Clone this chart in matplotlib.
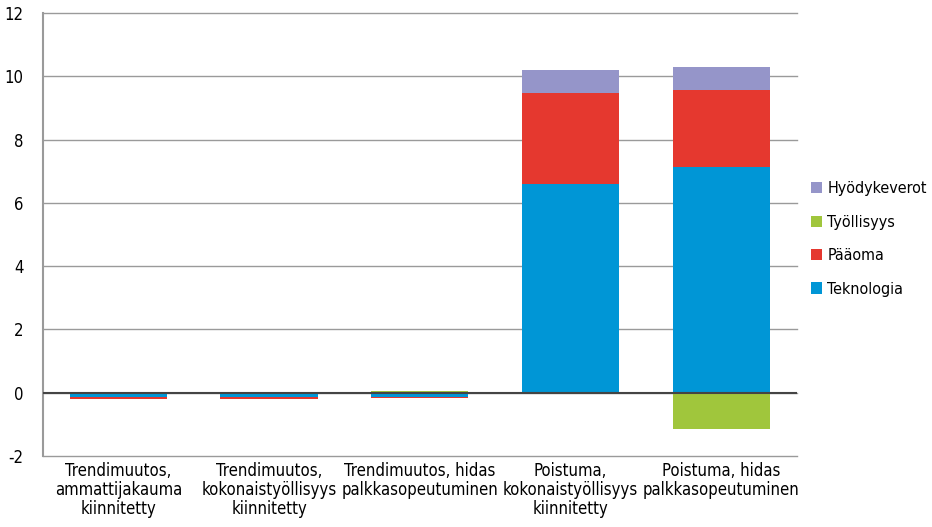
import matplotlib.pyplot as plt
import numpy as np

plt.rcParams['font.family'] = ['DejaVu Sans']
plt.rcParams['font.stretch'] = 'condensed'
plt.rcParams['axes.unicode_minus'] = False

categories = [
    "Trendimuutos,\nammattijakauma\nkiinnitetty",
    "Trendimuutos,\nkokonaistyöllisyys\nkiinnitetty",
    "Trendimuutos, hidas\npalkkasopeutuminen",
    "Poistuma,\nkokonaistyöllisyys\nkiinnitetty",
    "Poistuma, hidas\npalkkasopeutuminen",
]
teknologia = [-0.13, -0.13, -0.12, 6.59, 7.13]
paaoma = [-0.06, -0.06, -0.04, 2.88, 2.43]
tyollisyys = [0.0, 0.0, 0.05, 0.0, -1.15]
hyodykeverot = [0.0, 0.0, 0.0, 0.72, 0.73]

series = [
    ("Teknologia", teknologia, "#0096d6"),
    ("Pääoma", paaoma, "#e5382f"),
    ("Työllisyys", tyollisyys, "#a0c63c"),
    ("Hyödykeverot", hyodykeverot, "#9595c9"),
]

fig = plt.figure(figsize=(9.32, 5.27), dpi=100)
ax = fig.add_axes([0.046, 0.1347, 0.809, 0.8403])

x = np.arange(len(categories))
pos_base = np.zeros(len(categories))
neg_base = np.zeros(len(categories))
handles = []
for name, vals, color in series:
    vals = np.array(vals)
    bottom = np.where(vals >= 0, pos_base, neg_base)
    h = ax.bar(x, vals, 0.645, bottom=bottom, color=color, label=name, zorder=3)
    handles.append(h)
    pos_base += np.where(vals >= 0, vals, 0)
    neg_base += np.where(vals < 0, vals, 0)

ax.set_xlim(-0.5, len(categories) - 0.5)
ax.set_ylim(-2, 12)
ax.set_yticks(np.arange(-2, 13, 2))
ax.yaxis.grid(True, color="#9a9a9a", linewidth=1, zorder=0)
for gl in ax.get_ygridlines():
    gl.set_clip_on(False)
ax.axhline(0, color="#444444", linewidth=1.5, zorder=4)
for s in ["top", "right", "bottom"]:
    ax.spines[s].set_visible(False)
ax.spines["left"].set_color("#9a9a9a")
ax.spines["left"].set_linewidth(1.5)
ax.tick_params(axis="both", length=0, labelsize=12)
ax.tick_params(axis="y", pad=14)
ax.tick_params(axis="x", pad=4)
ax.set_xticks(x)
ax.set_xticklabels(categories, linespacing=1.1)

ax.legend(handles[::-1], [s[0] for s in series][::-1], loc="center left",
          bbox_to_anchor=(1.0, 0.49), frameon=False, fontsize=11.5,
          handlelength=0.7, handleheight=0.7, handletextpad=0.3, labelspacing=1.15)

fig.savefig("out.png", dpi=100)
